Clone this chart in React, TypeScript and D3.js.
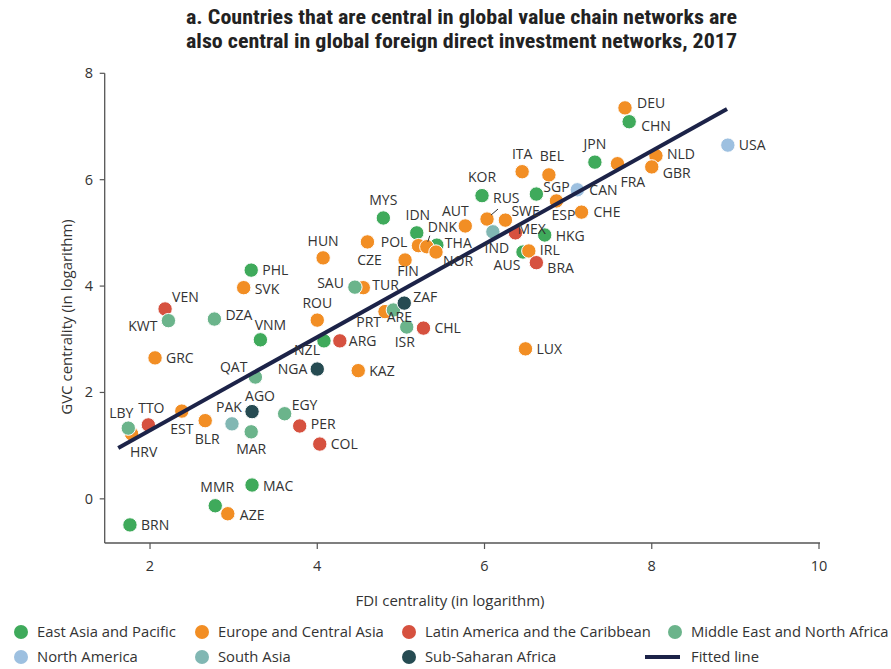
import React from "react";
import * as d3 from "d3";

// ---- Data (FDI centrality x, GVC centrality y, both in logarithm) ----
type Pt = { code: string; x: number; y: number };

const eastAsiaPacific: Pt[] = [
  { code: "PHL", x: 3.21, y: 4.30 }, { code: "VNM", x: 3.32, y: 2.99 },
  { code: "NZL", x: 4.08, y: 2.97 }, { code: "MYS", x: 4.79, y: 5.28 },
  { code: "IDN", x: 5.19, y: 5.00 }, { code: "THA", x: 5.43, y: 4.77 },
  { code: "KOR", x: 5.97, y: 5.70 }, { code: "SGP", x: 6.62, y: 5.73 },
  { code: "JPN", x: 7.32, y: 6.33 }, { code: "CHN", x: 7.73, y: 7.09 },
  { code: "HKG", x: 6.72, y: 4.96 }, { code: "AUS", x: 6.46, y: 4.64 },
  { code: "MMR", x: 2.78, y: -0.13 }, { code: "MAC", x: 3.22, y: 0.26 },
  { code: "BRN", x: 1.76, y: -0.49 },
];
const europeCentralAsia: Pt[] = [
  { code: "DEU", x: 7.68, y: 7.35 }, { code: "NLD", x: 8.05, y: 6.45 },
  { code: "GBR", x: 8.0, y: 6.24 }, { code: "FRA", x: 7.59, y: 6.30 },
  { code: "ITA", x: 6.45, y: 6.15 }, { code: "BEL", x: 6.77, y: 6.09 },
  { code: "ESP", x: 6.86, y: 5.60 }, { code: "CHE", x: 7.16, y: 5.39 },
  { code: "AUT", x: 5.77, y: 5.13 }, { code: "RUS", x: 6.03, y: 5.26 },
  { code: "SWE", x: 6.25, y: 5.24 }, { code: "IRL", x: 6.53, y: 4.66 },
  { code: "POL", x: 5.21, y: 4.76 }, { code: "DNK", x: 5.31, y: 4.74 },
  { code: "NOR", x: 5.42, y: 4.64 }, { code: "CZE", x: 4.60, y: 4.83 },
  { code: "FIN", x: 5.05, y: 4.49 }, { code: "HUN", x: 4.07, y: 4.53 },
  { code: "SVK", x: 3.12, y: 3.97 }, { code: "TUR", x: 4.55, y: 3.97 },
  { code: "ROU", x: 4.0, y: 3.36 }, { code: "PRT", x: 4.81, y: 3.52 },
  { code: "KAZ", x: 4.49, y: 2.41 }, { code: "LUX", x: 6.49, y: 2.82 },
  { code: "GRC", x: 2.06, y: 2.65 }, { code: "EST", x: 2.38, y: 1.65 },
  { code: "BLR", x: 2.66, y: 1.47 }, { code: "HRV", x: 1.78, y: 1.22 },
  { code: "AZE", x: 2.93, y: -0.28 },
];
const latinAmerica: Pt[] = [
  { code: "VEN", x: 2.18, y: 3.57 }, { code: "TTO", x: 1.98, y: 1.39 },
  { code: "ARG", x: 4.27, y: 2.97 }, { code: "CHL", x: 5.27, y: 3.21 },
  { code: "PER", x: 3.79, y: 1.37 }, { code: "COL", x: 4.03, y: 1.03 },
  { code: "MEX", x: 6.37, y: 5.0 }, { code: "BRA", x: 6.62, y: 4.44 },
];
const middleEastNorthAfrica: Pt[] = [
  { code: "KWT", x: 2.22, y: 3.35 }, { code: "DZA", x: 2.77, y: 3.38 },
  { code: "LBY", x: 1.74, y: 1.33 }, { code: "QAT", x: 3.26, y: 2.29 },
  { code: "MAR", x: 3.21, y: 1.26 }, { code: "EGY", x: 3.61, y: 1.60 },
  { code: "SAU", x: 4.45, y: 3.98 }, { code: "ARE", x: 4.91, y: 3.55 },
  { code: "ISR", x: 5.07, y: 3.23 },
];
const northAmerica: Pt[] = [
  { code: "USA", x: 8.91, y: 6.65 }, { code: "CAN", x: 7.11, y: 5.81 },
];
const southAsia: Pt[] = [
  { code: "PAK", x: 2.98, y: 1.41 }, { code: "IND", x: 6.10, y: 5.02 },
];
const subSaharanAfrica: Pt[] = [
  { code: "AGO", x: 3.22, y: 1.64 }, { code: "NGA", x: 4.0, y: 2.44 },
  { code: "ZAF", x: 5.04, y: 3.68 },
];

const regionNames = [
  "East Asia and Pacific", "Europe and Central Asia", "Latin America and the Caribbean",
  "Middle East and North Africa", "North America", "South Asia", "Sub-Saharan Africa",
];
const regionData = [
  eastAsiaPacific, europeCentralAsia, latinAmerica, middleEastNorthAfrica,
  northAmerica, southAsia, subSaharanAfrica,
];
const regionColors = ["#3faa5b", "#f28e24", "#d6513f", "#6bb48b", "#9dc0e0", "#81b7b3", "#264b52"];

// fitted line: y = a + b x
const fitIntercept = -0.46;
const fitSlope = 0.875;
const fitRange = [1.62, 8.9];

const xTicks = [2, 4, 6, 8, 10];
const yTicks = [0, 2, 4, 6, 8];

const titleLines = [
  "a. Countries that are central in global value chain networks are",
  "also central in global foreign direct investment networks, 2017",
];

// ---- label placement (pixel offsets from each dot) ----
type Lab = [number, number, "start" | "middle" | "end"];
const labelPos: Record<string, Lab> = {
  DEU: [12, -5, "start"], CHN: [12, 4, "start"], JPN: [0, -18, "middle"],
  NLD: [11, -2, "start"], GBR: [11, 6, "start"], FRA: [3, 18, "start"],
  USA: [11, 0, "start"], ITA: [0, -18, "middle"], BEL: [3, -19, "middle"],
  KOR: [0, -19, "middle"], SGP: [7, -7, "start"], CAN: [12, 0, "start"],
  ESP: [-5, 14, "start"], CHE: [12, 0, "start"], MYS: [0, -18, "middle"],
  IDN: [1, -18, "middle"], AUT: [-10, -15, "middle"], RUS: [6, -21, "start"],
  SWE: [6, -9, "start"], MEX: [2, -4, "start"], HKG: [11, 1, "start"],
  IND: [4, 16, "middle"], AUS: [-16, 13, "middle"], IRL: [11, -1, "start"],
  BRA: [11, 5, "start"], HUN: [0, -17, "middle"], POL: [-11, -4, "end"],
  CZE: [2, 18, "middle"], DNK: [1, -20, "start"], THA: [8, -2, "start"],
  NOR: [7, 9, "start"], FIN: [3, 11, "middle"], PHL: [11, 0, "start"],
  SVK: [11, 1, "start"], SAU: [-11, -4, "end"], TUR: [9, -3, "start"],
  VEN: [7, -12, "start"], KWT: [-11, 5, "end"], DZA: [11, -4, "start"],
  VNM: [10, -15, "middle"], ROU: [0, -17, "middle"], ZAF: [9, -6, "start"],
  PRT: [-4, 10, "end"], ARE: [6, 7, "middle"], ISR: [-2, 15, "middle"],
  CHL: [11, 0, "start"], NZL: [-4, 9, "end"], ARG: [9, 0, "start"],
  GRC: [11, 0, "start"], QAT: [-8, -10, "end"], NGA: [-10, 0, "end"],
  KAZ: [11, 0, "start"], LUX: [11, 0, "start"], AGO: [8, -16, "middle"],
  EGY: [7, -9, "start"], PAK: [-3, -17, "middle"], PER: [11, -2, "start"],
  COL: [11, 0, "start"], MAR: [0, 17, "middle"], BLR: [2, 18, "middle"],
  EST: [0, 18, "middle"], TTO: [3, -17, "middle"], LBY: [-7, -15, "middle"],
  HRV: [12, 18, "middle"], MMR: [2, -19, "middle"], MAC: [11, 1, "start"],
  AZE: [12, 1, "start"], BRN: [11, 0, "start"],
};
// leader lines: [x1,y1,x2,y2] offsets from dot
const leaders: Record<string, number[]> = {
  RUS: [4, -4, 11, -10],
  DNK: [1, -5, 3, -11],
};

const FONT = "'Open Sans', Lato, sans-serif";
const TEXT = "#333";

export default function App() {
  const W = 891, H = 669;
  const x = d3.scaleLinear().domain([1.458, 10]).range([104.7, 819]);
  const y = d3.scaleLinear().domain([-0.83, 8]).range([543, 73.3]);
  const fit = d3.line<number>().x((d) => x(d)).y((d) => y(fitIntercept + fitSlope * d));
  const axisColor = "#555";

  const all = regionData.flatMap((pts, i) => pts.map((p) => ({ ...p, color: regionColors[i] })));

  const legendCols = [21, 202, 409, 675];
  const legendRows = [632, 657];

  return (
    <svg width={W} height={H} style={{ display: "block", position: "absolute", left: 0, top: 0 }}
      fontFamily={FONT}>
      <rect width={W} height={H} fill="#fff" />
      {titleLines.map((t, i) => (
        <text key={i} x={186} y={24 + i * 24} textAnchor="start" fontWeight={700}
          fontSize={20} fill="#222" textLength={551} lengthAdjust="spacingAndGlyphs"
          fontFamily="'Liberation Sans Narrow', 'Roboto Condensed', Roboto, sans-serif">{t}</text>
      ))}

      {/* axes */}
      <line x1={x.range()[0]} x2={820} y1={y.range()[0]} y2={y.range()[0]} stroke={axisColor} strokeWidth={1.3} />
      <line x1={x.range()[0]} x2={x.range()[0]} y1={y.range()[0]} y2={y.range()[1]} stroke={axisColor} strokeWidth={1.3} />
      {xTicks.map((t) => (
        <g key={"x" + t}>
          <line x1={x(t)} x2={x(t)} y1={y.range()[0]} y2={y.range()[0] + 6} stroke={axisColor} strokeWidth={1.2} />
          <text x={x(t)} y={571} textAnchor="middle" fontSize={14.5} fill={TEXT}>{t}</text>
        </g>
      ))}
      {yTicks.map((t) => (
        <g key={"y" + t}>
          <line x1={x.range()[0] - 5} x2={x.range()[0]} y1={y(t)} y2={y(t)} stroke={axisColor} strokeWidth={1.2} />
          <text x={93} y={y(t) + 5} textAnchor="end" fontSize={14.5} fill={TEXT}>{t}</text>
        </g>
      ))}
      <text x={450} y={606} textAnchor="middle" fontSize={15} fill={TEXT}>FDI centrality (in logarithm)</text>
      <text transform={`translate(72,317) rotate(-90)`} textAnchor="middle" fontSize={15} fill={TEXT}>
        GVC centrality (in logarithm)
      </text>

      {/* dots */}
      {all.map((p) => (
        <circle key={p.code} cx={x(p.x)} cy={y(p.y)} r={7.2} fill={p.color} stroke="#fff" strokeWidth={1} />
      ))}

      {/* fitted line */}
      <path d={fit(fitRange) || ""} stroke="#1c2348" strokeWidth={4} fill="none" />

      {/* leaders */}
      {all.filter((p) => leaders[p.code]).map((p) => {
        const l = leaders[p.code];
        return <line key={"l" + p.code} x1={x(p.x) + l[0]} y1={y(p.y) + l[1]} x2={x(p.x) + l[2]} y2={y(p.y) + l[3]}
          stroke="#333" strokeWidth={1} />;
      })}

      {/* labels */}
      {all.map((p) => {
        const lp = labelPos[p.code] || [11, 0, "start"];
        return (
          <text key={"t" + p.code} x={x(p.x) + lp[0]} y={y(p.y) + lp[1]} dy="0.35em"
            textAnchor={lp[2]} fontSize={14} fill={TEXT}>{p.code}</text>
        );
      })}

      {/* legend */}
      {regionNames.map((n, i) => {
        const cx = legendCols[i % 4];
        const cy = legendRows[Math.floor(i / 4)];
        return (
          <g key={n}>
            <circle cx={cx} cy={cy} r={7} fill={regionColors[i]} />
            <text x={cx + 16} y={cy} dy="0.35em" fontSize={14.8} fill={TEXT}>{n}</text>
          </g>
        );
      })}
      <line x1={645} x2={680} y1={legendRows[1]} y2={legendRows[1]} stroke="#1c2348" strokeWidth={4} />
      <text x={691} y={legendRows[1]} dy="0.35em" fontSize={14.8} fill={TEXT}>Fitted line</text>
    </svg>
  );
}
